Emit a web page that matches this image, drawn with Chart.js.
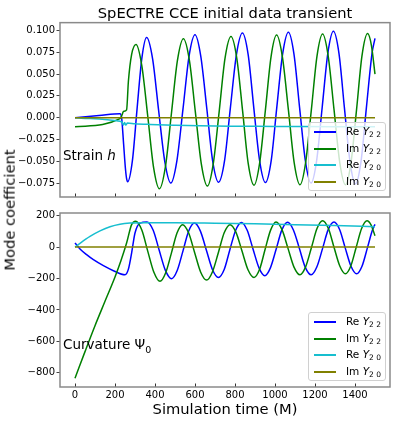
<!DOCTYPE html>
<html>
<head>
<meta charset="utf-8">
<script src="https://cdn.jsdelivr.net/npm/chart.js@4.4.1/dist/chart.umd.min.js"></script>
<style>
  body { margin: 0; background: #fff; font-family: 'DejaVu Sans', sans-serif; }
  #wrap { position: relative; width: 399px; height: 425px; overflow: hidden; }
  canvas { position: absolute; left: 0; }
  .note { position: absolute; left: 63px; font-size: 13.5px; line-height: 1; white-space: nowrap; color: #000; }
  .legend { position: absolute; left: 308px; width: 78px; height: 69px; box-sizing: border-box;
            background: rgba(255,255,255,0.8); border: 1px solid #d0d0d0; border-radius: 3px; padding-top: 1px; }
  .legend .row { height: 16.5px; display: flex; align-items: center; font-size: 10.5px; }
  .legend .swatch { width: 22px; height: 2px; margin-left: 5px; margin-right: 10px; }
  .legend sub { font-size: 7.5px; vertical-align: -2px; }
  #ylabel { position: absolute; left: 10.4px; top: 210px; font-size: 14.7px; line-height: 1; white-space: nowrap;
            transform: translate(-50%, -50%) rotate(-90deg); }
</style>
</head>
<body>
<div id="wrap">
  <canvas id="strain" width="399" height="205" style="top:0"></canvas>
  <canvas id="curv" width="399" height="220" style="top:205px"></canvas>
  <div class="note" style="top:148.6px">Strain <i>h</i></div>
  <div class="note" style="top:337.6px">Curvature Ψ<sub style="font-size:9.5px">0</sub></div>
  <div id="ylabel">Mode coefficient</div>
  <div class="legend" id="legStrain" style="top:122px"></div>
  <div class="legend" id="legCurv" style="top:312px"></div>
</div>
<script>
// series info
const seriesParts = ['Re', 'Im', 'Re', 'Im'];
const seriesModes = ['2 2', '2 2', '2 0', '2 0'];
const seriesColors = ['#0000ff', '#008000', '#17becf', '#808000'];

const timeTicks = [0, 200, 400, 600, 800, 1000, 1200, 1400];
const strainTicks = [-0.075, -0.05, -0.025, 0, 0.025, 0.05, 0.075, 0.1];
const curvTicks = [-800, -600, -400, -200, 0, 200];

// strain h
const strainReY22T = [0,120,225,233,243,252,258,263,287,310,334,358,388,418,449,479,509,540,570,600,629,659,688,718,748,777,807,837,866,894,923,952,981,1009,1038,1067,1095,1123,1152,1180,1208,1236,1264,1292,1320,1347,1375,1402,1430,1457,1485,1500];
const strainReY22 = [0,0.0024,0.0045,0.0,-0.030,-0.058,-0.070,-0.0735,-0.0493,0.0093,0.0678,0.092,0.0675,0.0085,-0.0505,-0.075,-0.0501,0.010,0.0701,0.095,0.0702,0.0105,-0.0492,-0.074,-0.049,0.0115,0.072,0.097,0.0719,0.0113,-0.0494,-0.0745,-0.0493,0.0118,0.0728,0.098,0.0727,0.0115,-0.0497,-0.075,-0.0495,0.012,0.0735,0.099,0.0734,0.0115,-0.0504,-0.076,-0.0504,0.0115,0.0734,0.091];

const strainImY22T = [0,225,235,242,258,267,283,305,334,364,393,422,452,482,512,542,572,602,632,662,691,721,750,780,809,838,866,895,923,952,980,1008,1037,1067,1096,1125,1153,1182,1210,1238,1266,1295,1324,1352,1380,1408,1435,1463,1482,1500];
const strainImY22 = [-0.0105,-0.0012,0.003,0.0071,0.0090,0.0418,0.0724,0.084,0.0598,0.0013,-0.0573,-0.0815,-0.0563,0.0045,0.0653,0.0905,0.0657,0.006,-0.0537,-0.0785,-0.0534,0.0073,0.0679,0.093,0.0681,0.0078,-0.0525,-0.0775,-0.0523,0.0086,0.0695,0.0947,0.0696,0.0089,-0.0519,-0.077,-0.0517,0.0095,0.0707,0.096,0.0707,0.0095,-0.0517,-0.077,-0.0516,0.0098,0.0711,0.0965,0.083,0.050];

const strainReY20T = [0,225,235,242,248,254,262,300,375,500,625,800,1000,1125,1300,1500];
const strainReY20 = [0,-0.0042,-0.0050,-0.0085,-0.0055,-0.0085,-0.0062,-0.0070,-0.0078,-0.0087,-0.0094,-0.0098,-0.0100,-0.0102,-0.0104,-0.0105];

const strainImY20T = [0,1500];
const strainImY20 = [0,0];

// curvature Psi0
const curvReY22T = [0,25,58,92,142,192,250,267,283,300,325,360,391,421,452,483,511,540,568,597,627,657,687,717,746,774,803,832,861,890,920,949,977,1006,1034,1063,1092,1122,1151,1181,1209,1238,1266,1295,1323,1351,1380,1408,1435,1462,1488,1500];
const curvReY22 = [26,-12,-48,-80,-118,-150,-176,-140,-38,90,153,160,107,-20,-148,-201,-149,-24,101,153,102,-20,-142,-193,-142,-18,106,157,107,-12,-132,-182,-132,-12,108,158,109,-9,-127,-176,-127,-8,111,160,112,-5,-122,-170,-122,-5,112,145];

const curvImY22T = [0,50,100,150,200,230,258,283,303,334,364,395,425,453,482,510,538,568,598,628,658,687,717,746,775,805,835,865,895,923,950,978,1005,1035,1065,1095,1125,1153,1182,1210,1238,1267,1295,1324,1352,1379,1406,1433,1460,1480,1500];
const curvImY22 = [-834,-665,-500,-345,-190,-85,26,143,165,109,-27,-162,-218,-165,-38,90,143,91,-34,-158,-210,-158,-34,91,143,94,-25,-144,-193,-141,-17,108,160,111,-8,-127,-176,-126,-4,118,168,118,-1,-120,-170,-120,-1,118,168,142,72];

const curvReY20T = [0,25,75,125,175,225,275,350,500,700,900,1100,1300,1500];
const curvReY20 = [0,24,68,103,130,146,153,155,155,152,148,143,137,130];

const curvImY20T = [0,1500];
const curvImY20 = [0,0];

Chart.defaults.font.family = "'DejaVu Sans', sans-serif";
Chart.defaults.color = '#000';

function pts(ts, vs) {
  return ts.map((t, i) => ({ x: t, y: vs[i] }));
}

function makeSets(list) {
  return list.map((s, i) => ({
    label: seriesParts[i] + ' Y' + seriesModes[i],
    data: pts(s[0], s[1]),
    borderColor: seriesColors[i],
    borderWidth: 1.5,
    pointRadius: 0,
    cubicInterpolationMode: 'monotone',
    order: list.length - i
  }));
}

// gray box round the plot area plus inward ticks on x
const framePlugin = {
  id: 'frame',
  afterDraw(chart) {
    const ctx = chart.ctx, a = chart.chartArea, sx = chart.scales.x;
    ctx.save();
    ctx.strokeStyle = '#333';
    ctx.lineWidth = 1;
    timeTicks.forEach(function(t) {
      const x = Math.round(sx.getPixelForValue(t)) + 0.5;
      ctx.beginPath();
      ctx.moveTo(x, a.bottom);
      ctx.lineTo(x, a.bottom - 3.5);
      ctx.stroke();
    });
    ctx.strokeStyle = '#8a8a8a';
    ctx.lineWidth = 1.5;
    ctx.strokeRect(a.left, a.top, a.right - a.left, a.bottom - a.top);
    ctx.restore();
  }
};

function yScale(min, max, ticks, fmt) {
  return {
    min: min, max: max,
    afterBuildTicks: s => { s.ticks = ticks.map(v => ({ value: v })); },
    afterFit: s => { s.width = 60; },
    grid: { drawOnChartArea: false, tickLength: 3.5, color: '#444' },
    border: { display: false },
    ticks: { font: { size: 10 }, padding: 1.5, callback: fmt }
  };
}

function minusSign(s) { return s.replace('-', '\u2212'); }

new Chart(document.getElementById('strain'), {
  type: 'line',
  data: {
    datasets: makeSets([
      [strainReY22T, strainReY22], [strainImY22T, strainImY22],
      [strainReY20T, strainReY20], [strainImY20T, strainImY20]
    ])
  },
  options: {
    responsive: false,
    animation: false,
    layout: { padding: { left: 0, right: 9, top: 0, bottom: 8 } },
    plugins: {
      legend: { display: false },
      tooltip: { enabled: false },
      title: {
        display: true, text: 'SpECTRE CCE initial data transient', fullSize: false,
        font: { size: 14.7, weight: 'normal' }, color: '#000', padding: { top: 5, bottom: 0 }
      }
    },
    scales: {
      x: {
        type: 'linear', min: -75, max: 1575,
        afterBuildTicks: s => { s.ticks = timeTicks.map(v => ({ value: v })); },
        afterFit: s => { s.height = 0; },
        grid: { display: false, drawTicks: false }, border: { display: false },
        ticks: { display: false }
      },
      y: yScale(-0.091, 0.109, strainTicks, v => minusSign(v.toFixed(3)))
    }
  },
  plugins: [framePlugin]
});

new Chart(document.getElementById('curv'), {
  type: 'line',
  data: {
    datasets: makeSets([
      [curvReY22T, curvReY22], [curvImY22T, curvImY22],
      [curvReY20T, curvReY20], [curvImY20T, curvImY20]
    ])
  },
  options: {
    responsive: false,
    animation: false,
    layout: { padding: { left: 0, right: 9, top: 8, bottom: 0 } },
    plugins: { legend: { display: false }, tooltip: { enabled: false } },
    scales: {
      x: {
        type: 'linear', min: -75, max: 1575,
        afterBuildTicks: s => { s.ticks = timeTicks.map(v => ({ value: v })); },
        afterFit: s => { s.height = 38; },
        grid: { display: false, drawTicks: false, tickLength: 0 }, border: { display: false },
        ticks: { font: { size: 10 }, padding: 2, maxRotation: 0, callback: v => String(v) },
        title: {
          display: true, text: 'Simulation time (M)',
          font: { size: 14.7 }, color: '#000', padding: { top: 0, bottom: 6 }
        }
      },
      y: yScale(-890, 217, curvTicks, v => minusSign(String(v)))
    }
  },
  plugins: [framePlugin]
});

// legends drawn as html boxes over the lower right of each panel
['legStrain', 'legCurv'].forEach(function(id) {
  document.getElementById(id).innerHTML = seriesParts.map((p, i) =>
    '<div class="row"><div class="swatch" style="background:' + seriesColors[i] + '"></div>' +
    '<span>' + p + ' <i>Y</i><sub>' + seriesModes[i].replace(' ', '&nbsp;') + '</sub></span></div>'
  ).join('');
});
</script>
</body>
</html>
